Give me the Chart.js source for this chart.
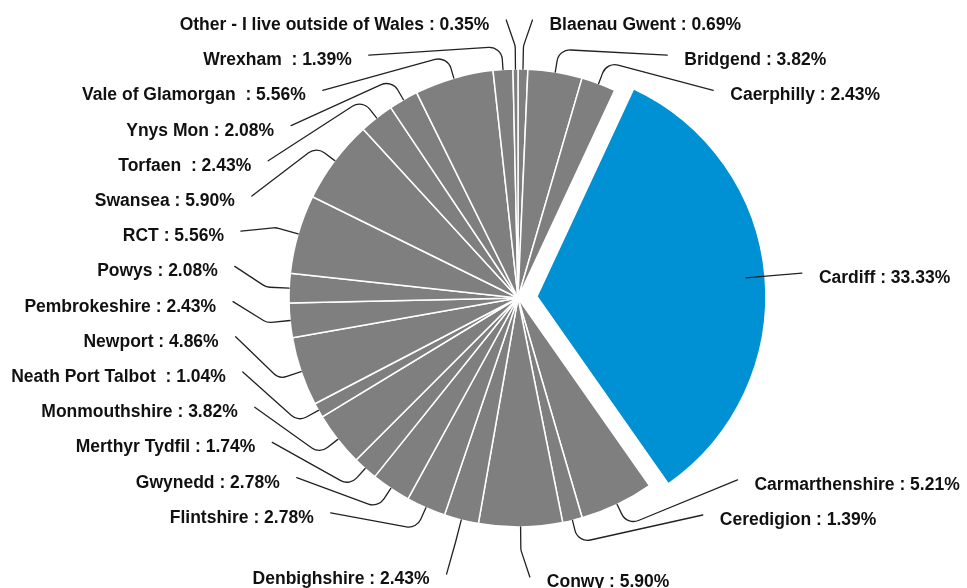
<!DOCTYPE html>
<html>
<head>
<meta charset="utf-8">
<script src="https://cdn.jsdelivr.net/npm/chart.js@4.4.0/dist/chart.umd.min.js"></script>
<style>
  html, body { margin: 0; padding: 0; background: #fff; }
  #wrap { width: 967px; height: 588px; }
</style>
</head>
<body>
<div id="wrap"><canvas id="regionChart" width="967" height="588"></canvas></div>
<script>
// Respondents by local authority (share of answers, %)
const regions = [
    'Blaenau Gwent', 'Bridgend', 'Caerphilly', 'Cardiff', 'Carmarthenshire',
    'Ceredigion', 'Conwy', 'Denbighshire', 'Flintshire', 'Gwynedd',
    'Merthyr Tydfil', 'Monmouthshire', 'Neath Port Talbot ', 'Newport',
    'Pembrokeshire', 'Powys', 'RCT', 'Swansea', 'Torfaen ', 'Ynys Mon',
    'Vale of Glamorgan ', 'Wrexham ', 'Other - I live outside of Wales'
];
const shares = [
    0.69, 3.82, 2.43, 33.33, 5.21,
    1.39, 5.90, 2.43, 2.78, 2.78,
    1.74, 3.82, 1.04, 4.86,
    2.43, 2.08, 5.56, 5.90, 2.43, 2.08,
    5.56, 1.39, 0.35
];
const highlight = 'Cardiff';

const GREY = '#7f7f7f';
const BLUE = '#0090d4';
const LABEL_FONT = 'bold 17.5px "Liberation Sans", Arial, sans-serif';

const pieRadius = 229;
const explode = 19;        // pull-out of the highlighted slice
const labelRadius = 285;   // where leader lines end
const elbowRadius = 252;   // where leader lines bend
const rowGap = 35.2;       // min vertical distance between labels
const topY = 20;
const bottomY = 577;

// push overlapping labels apart, keeping each group centred on its natural spot
function spreadLabels(list, lo, hi) {
    const groups = list.map(l => ({ items: [l] }));

    function place(g) {
        const n = g.items.length;
        let start = g.items.reduce((s, l, k) => s + l.ny - k * rowGap, 0) / n;
        start = Math.min(start, hi - (n - 1) * rowGap);
        start = Math.max(start, lo);
        g.start = start;
        g.items.forEach((l, k) => { l.y = start + k * rowGap; });
    }

    groups.forEach(place);
    let merged = true;
    while (merged) {
        merged = false;
        for (let i = 1; i < groups.length; i++) {
            const a = groups[i - 1], b = groups[i];
            if (b.start < a.start + a.items.length * rowGap - 0.01) {
                a.items = a.items.concat(b.items);
                groups.splice(i, 1);
                place(a);
                merged = true;
                break;
            }
        }
    }
}

// move the highlighted slice out while it is drawn
const explodePlugin = {
    id: 'explode',
    beforeDatasetDraw(chart) {
        const arc = chart.getDatasetMeta(0).data[regions.indexOf(highlight)];
        if (!arc) return;
        const mid = (arc.startAngle + arc.endAngle) / 2;
        arc._dx = Math.cos(mid) * explode;
        arc._dy = Math.sin(mid) * explode;
        arc.x += arc._dx;
        arc.y += arc._dy;
    },
    afterDatasetDraw(chart) {
        const arc = chart.getDatasetMeta(0).data[regions.indexOf(highlight)];
        if (!arc || arc._dx === undefined) return;
        arc.x -= arc._dx;
        arc.y -= arc._dy;
        delete arc._dx;
        delete arc._dy;
    }
};

// outside labels with curved leader lines
const leaderPlugin = {
    id: 'leaders',
    afterDatasetsDraw(chart) {
        const meta = chart.getDatasetMeta(0);
        const ctx = chart.ctx;
        if (!meta.data.length) return;
        const cx = meta.data[0].x;
        const cy = meta.data[0].y;

        const items = meta.data.map((arc, i) => {
            const mid = (arc.startAngle + arc.endAngle) / 2;
            const cos = Math.cos(mid), sin = Math.sin(mid);
            return {
                i, cos, sin,
                right: cos >= 0,
                ny: cy + labelRadius * sin,
                text: regions[i] + ' : ' + shares[i].toFixed(2) + '%'
            };
        });

        [true, false].forEach(side => {
            const list = items.filter(it => it.right === side).sort((a, b) => a.ny - b.ny);
            let hi = bottomY;
            const last = list[list.length - 1];
            if (last && last.ny > cy + 0.9 * labelRadius) {
                last.y = Math.min(last.ny, bottomY);
                hi = last.y - 62;
                list.pop();
            }
            spreadLabels(list, topY, hi);
        });

        ctx.save();
        ctx.strokeStyle = '#222';
        ctx.lineWidth = 1.3;
        ctx.lineCap = 'round';
        ctx.fillStyle = '#111';
        ctx.font = LABEL_FONT;
        ctx.textBaseline = 'alphabetic';

        items.forEach(it => {
            const p0x = cx + pieRadius * it.cos, p0y = cy + pieRadius * it.sin;
            const p1x = cx + elbowRadius * it.cos, p1y = cy + elbowRadius * it.sin;
            const dy = it.y - cy;
            let dx;
            if (Math.abs(it.y - it.ny) > 8) {
                dx = Math.sqrt(Math.max(labelRadius * labelRadius - dy * dy, 0));
            } else {
                dx = Math.abs(labelRadius * it.cos);
            }
            dx = Math.max(dx, Math.abs(p1x - cx) + 9);
            const ax = cx + (it.right ? dx : -dx);
            const ay = it.y;

            ctx.beginPath();
            ctx.moveTo(p0x, p0y);
            ctx.arcTo(p1x, p1y, ax, ay, 13);
            ctx.lineTo(ax, ay);
            ctx.stroke();

            ctx.textAlign = it.right ? 'left' : 'right';
            ctx.fillText(it.text, ax + (it.right ? 17 : -17), ay + 10);
        });
        ctx.restore();
    }
};

new Chart(document.getElementById('regionChart'), {
    type: 'pie',
    data: {
        labels: regions,
        datasets: [{
            data: shares,
            backgroundColor: regions.map(r => r === highlight ? BLUE : GREY),
            borderColor: '#ffffff',
            borderWidth: 1.5,
            radius: pieRadius
        }]
    },
    options: {
        responsive: false,
        animation: false,
        events: [],
        layout: {
            padding: { left: 289, top: 69, right: 220, bottom: 61 }
        },
        plugins: {
            legend: { display: false },
            tooltip: { enabled: false }
        }
    },
    plugins: [explodePlugin, leaderPlugin]
});
</script>
</body>
</html>
